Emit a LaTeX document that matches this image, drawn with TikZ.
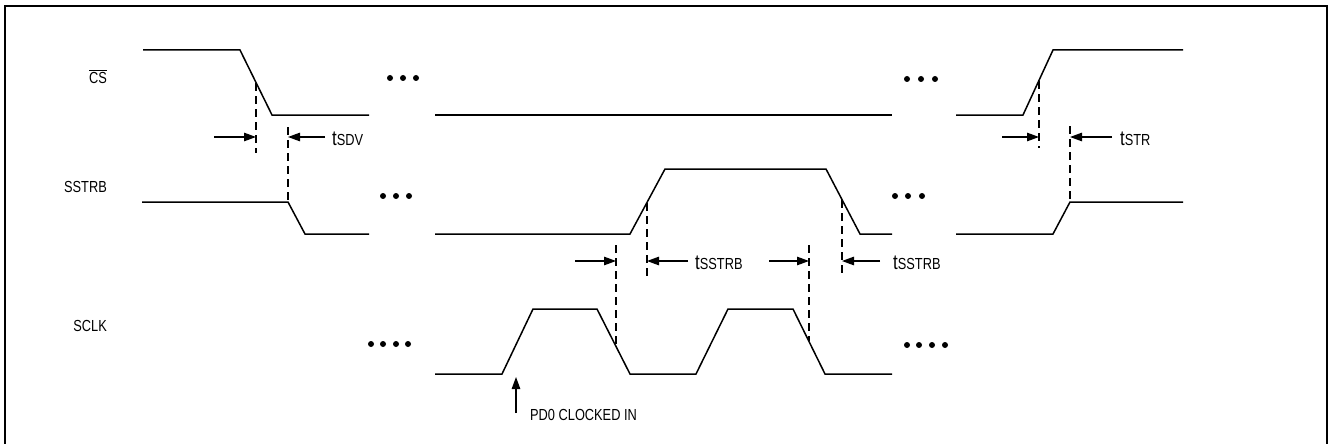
\documentclass[tikz,border=0pt]{standalone}
\usepackage{fontspec}
\setmainfont{Liberation Sans}[FakeStretch=0.8]
\usetikzlibrary{arrows.meta, positioning}
\newcommand{\tsym}[1]{{\fontsize{21}{22}\selectfont t}#1}
\tikzset{
  wave/.style={line width=1.5pt, line join=miter},
  guide/.style={line width=1.2pt, dash pattern=on 8pt off 5pt},
  dim/.style={-{Triangle[length=12pt,width=8.5pt]}, line width=1.2pt},
  signame/.style={anchor=base east, inner sep=0pt, font=\fontsize{16}{18}\selectfont},
  timelbl/.style={anchor=base west, inner sep=0pt, font=\fontsize{16}{18}\selectfont},
}
\newcommand{\dotrow}[2]{\foreach \x in {#1} \fill (\x,#2) circle (3pt);}

\begin{document}
\begin{tikzpicture}[x=1pt, y=-1pt]
  \useasboundingbox (0,0) rectangle (1328,444);
  % frame
  \draw[line width=1.6pt] (5,450) -- (5,6) -- (1327,6) -- (1327,450);

  % signal names
  \node[signame] (cs) at (107,83) {$\overline{\mbox{CS}}$};
  \node[signame] (sstrb) at (107,192) {SSTRB};
  \node[signame] (sclk) at (107,331) {SCLK};

  % CS
  \draw[wave] (143,50) -- (240,50) -- (272,115) -- (369,115);
  \draw[wave] (435,115) -- (892,115);
  \draw[wave] (956,115) -- (1023,115) -- (1053,50) -- (1183,50);
  \dotrow{390,403,416}{78}
  \dotrow{907,921,935}{79}

  % SSTRB
  \draw[wave] (142,202) -- (288,202) -- (305,234) -- (369,234);
  \draw[wave] (435,234) -- (630,234) -- (665,169) -- (826,169) -- (860,234) -- (892,234);
  \draw[wave] (956,234) -- (1053,234) -- (1070,202) -- (1183,202);
  \dotrow{383,396,409}{196}
  \dotrow{895,908,922}{196}

  % SCLK
  \draw[wave] (435,374) -- (502,374) -- (533,309) -- (597,309) -- (630,374) -- (696,374)
    -- (728,309) -- (793,309) -- (825,374) -- (892,374);
  \dotrow{371,383,396,408}{344}
  \dotrow{907,919,932,945}{345}

  % dashed guides
  \draw[guide] (256,83) -- (256,153);
  \draw[guide] (288,127) -- (288,202);
  \draw[guide] (1039,81) -- (1039,148);
  \draw[guide] (1070,126) -- (1070,202);
  \draw[guide] (647,203) -- (647,277);
  \draw[guide] (616,245) -- (616,344);
  \draw[guide] (842,200) -- (842,277);
  \draw[guide] (809,245) -- (809,341);

  % tSDV
  \coordinate (sdvA) at (256,137);
  \coordinate (sdvB) at (288,137);
  \draw[dim] ([xshift=-42pt]sdvA) -- (sdvA);
  \draw[dim] ([xshift=37pt]sdvB) -- (sdvB);
  \node[timelbl] (tsdv) at ([xshift=44pt,yshift=-8pt]sdvB) {\tsym{SDV}};

  % tSTR
  \coordinate (strA) at (1039,137);
  \coordinate (strB) at (1070,137);
  \draw[dim] ([xshift=-37pt]strA) -- (strA);
  \draw[dim] ([xshift=42pt]strB) -- (strB);
  \node[timelbl] (tstr) at ([xshift=50pt,yshift=-8pt]strB) {\tsym{STR}};

  % tSSTRB, rising edge
  \coordinate (ssA) at (616,261);
  \coordinate (ssB) at (647,261);
  \draw[dim] ([xshift=-41pt]ssA) -- (ssA);
  \draw[dim] ([xshift=41pt]ssB) -- (ssB);
  \node[timelbl] (tsstrbA) at ([xshift=48pt,yshift=-8pt]ssB) {\tsym{SSTRB}};

  % tSSTRB, falling edge
  \coordinate (ssC) at (809,261);
  \coordinate (ssD) at (842,261);
  \draw[dim] ([xshift=-40pt]ssC) -- (ssC);
  \draw[dim] ([xshift=38pt]ssD) -- (ssD);
  \node[timelbl] (tsstrbB) at ([xshift=51pt,yshift=-8pt]ssD) {\tsym{SSTRB}};

  % PD0 clocked in
  \coordinate (pdtip) at (516,377);
  \draw[dim] ([yshift=-36pt]pdtip) -- (pdtip);
  \node[timelbl] (pd0) at (530,420) {PD0 CLOCKED IN};
\end{tikzpicture}
\end{document}
